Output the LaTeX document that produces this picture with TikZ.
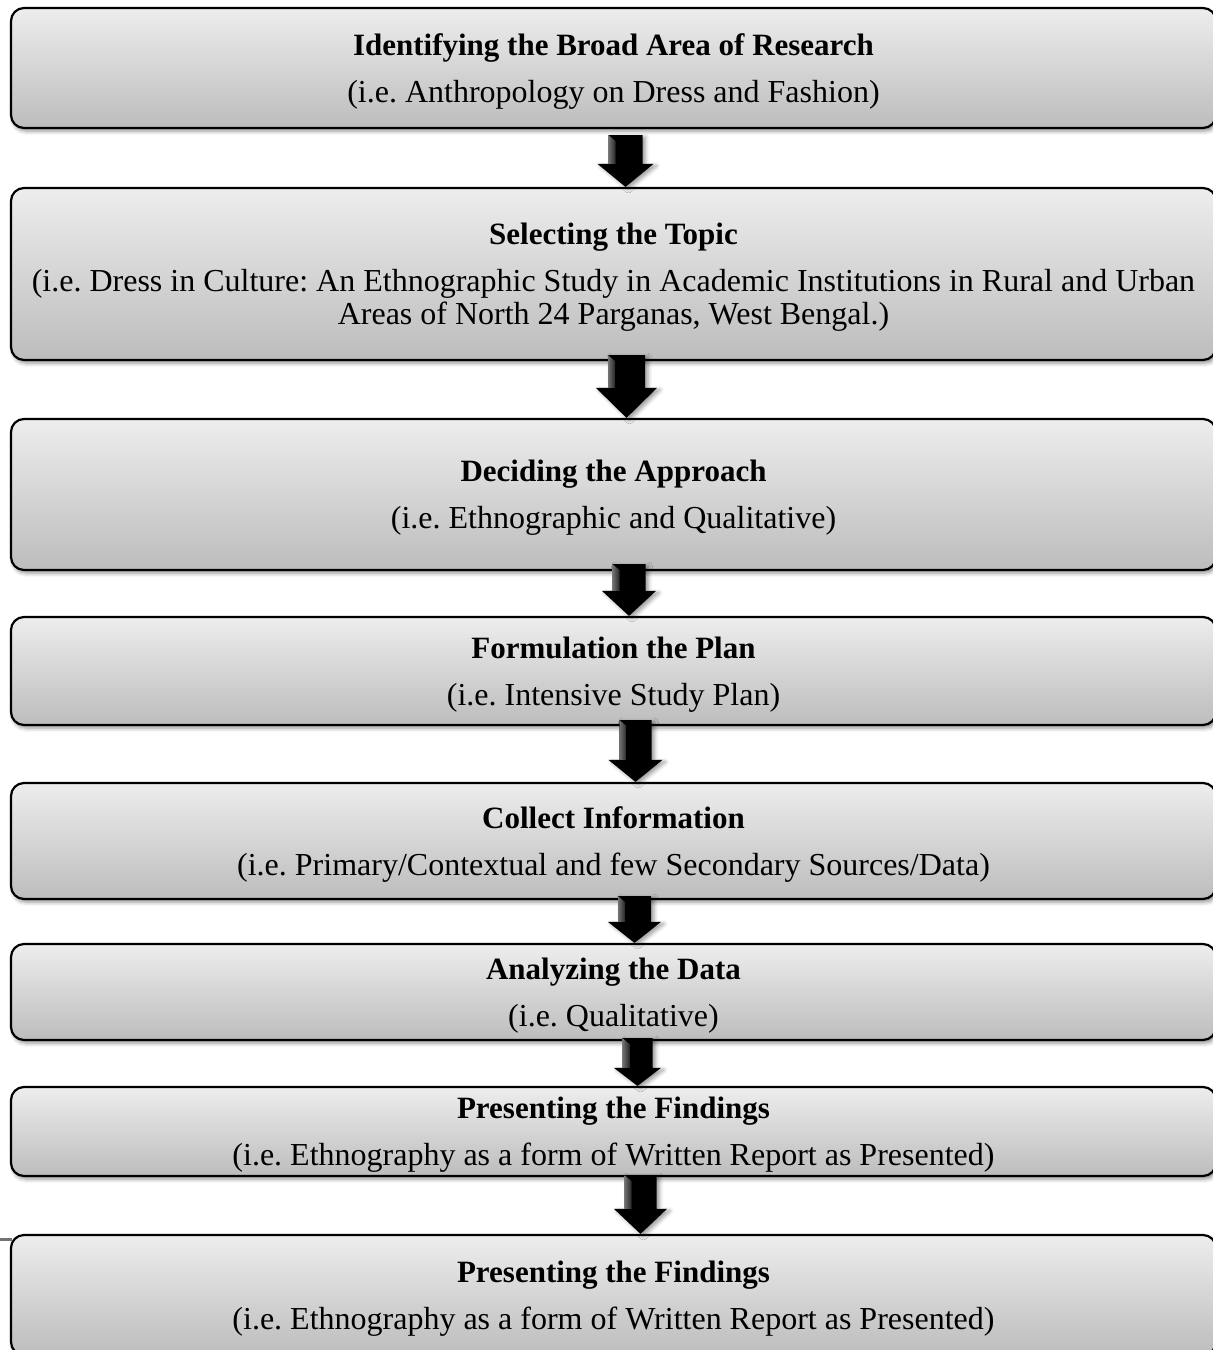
\documentclass[tikz,border=0pt]{standalone}
\usepackage{fontspec}
\setmainfont{Liberation Serif}
\usetikzlibrary{calc,shadows.blur}
\frenchspacing
\newcommand{\steptitle}[1]{\rule{0pt}{28pt}{\fontsize{31}{33}\selectfont\bfseries #1}}
\tikzset{
  stagebox/.style={draw=black, line width=2.2pt, rounded corners=13pt,
    top color=black!7, bottom color=black!26, minimum width=1205pt,
    align=center, inner sep=0pt,
    blur shadow={shadow xshift=2pt, shadow yshift=-3pt, shadow blur radius=4pt, shadow opacity=45},
    font=\fontsize{32}{33}\selectfont},
  arrowbody/.style={fill=black,
    blur shadow={shadow xshift=3pt, shadow yshift=-2pt, shadow blur radius=4pt, shadow opacity=40}},
  arrowbevel/.style={left color=black!55, right color=black!85},
}
% #1 from, #2 to, #3 x offset, #4 shaft half width, #5 top above from.south, #6 head half width, #7 head length
\newcommand{\blockarrow}[7]{%
  \fill[arrowbody] let \p1=(#1.south), \p2=(#2.north) in
    ({\x1+#3pt-#4pt}, {\y1+(#5pt)}) -- ({\x1+#3pt+#4pt}, {\y1+(#5pt)}) --
    ({\x1+#3pt+#4pt}, {\y2+#7pt}) -- ({\x1+#3pt+#6pt}, {\y2+#7pt}) --
    ({\x1+#3pt}, {\y2}) -- ({\x1+#3pt-#6pt}, {\y2+#7pt}) --
    ({\x1+#3pt-#4pt}, {\y2+#7pt}) -- cycle;
  \fill[arrowbevel] let \p1=(#1.south), \p2=(#2.north) in
    ({\x1+#3pt-#4pt}, {\y1+(#5pt)}) -- ({\x1+#3pt-#4pt+7pt}, {\y1+(#5pt)-6pt}) --
    ({\x1+#3pt-#4pt+7pt}, {\y2+#7pt}) -- ({\x1+#3pt-#4pt}, {\y2+#7pt}) -- cycle;
}
\begin{document}
\begin{tikzpicture}[x=1pt,y=1pt]
\useasboundingbox (0,0) rectangle (1213,-1350);
\fill[black!55] (0,-1237.5) rectangle (12,-1240.5);

\node[stagebox, minimum height=120pt] (s1) at (613.5,-68)
  {\steptitle{Identifying the Broad Area of Research}\\[14pt](i.e. Anthropology on Dress and Fashion)};
\node[stagebox, minimum height=172pt] (s2) at (613.5,-274)
  {\steptitle{Selecting the Topic}\\[14pt](i.e. Dress in Culture: An Ethnographic Study in Academic Institutions in Rural and Urban\\Areas of North 24 Parganas, West Bengal.)};
\node[stagebox, minimum height=151pt] (s3) at (613.5,-494.5)
  {\steptitle{Deciding the Approach}\\[14pt](i.e. Ethnographic and Qualitative)};
\node[stagebox, minimum height=108pt] (s4) at (613.5,-671)
  {\steptitle{Formulation the Plan}\\[14pt](i.e. Intensive Study Plan)};
\node[stagebox, minimum height=116pt] (s5) at (613.5,-841)
  {\steptitle{Collect Information}\\[14pt](i.e. Primary/Contextual and few Secondary Sources/Data)};
\node[stagebox, minimum height=96pt] (s6) at (613.5,-992)
  {\steptitle{Analyzing the Data}\\[14pt](i.e. Qualitative)};
\node[stagebox, minimum height=89pt] (s7) at (613.5,-1131.5)
  {\steptitle{Presenting the Findings}\\[14pt](i.e. Ethnography as a form of Written Report as Presented)};
\node[stagebox, minimum height=120pt] (s8) at (613.5,-1295)
  {\steptitle{Presenting the Findings}\\[14pt](i.e. Ethnography as a form of Written Report as Presented)};

\blockarrow{s1}{s2}{12}{17}{-6}{28}{23}
\blockarrow{s2}{s3}{13}{18.5}{6}{30.5}{30}
\blockarrow{s3}{s4}{15.5}{16.5}{7}{27}{25}
\blockarrow{s4}{s5}{22}{16}{6}{27}{22}
\blockarrow{s5}{s6}{21}{16.5}{4}{26.5}{21}
\blockarrow{s6}{s7}{24}{15}{3}{23.5}{18}
\blockarrow{s7}{s8}{27}{16}{2}{26.5}{25}
\end{tikzpicture}
\end{document}
